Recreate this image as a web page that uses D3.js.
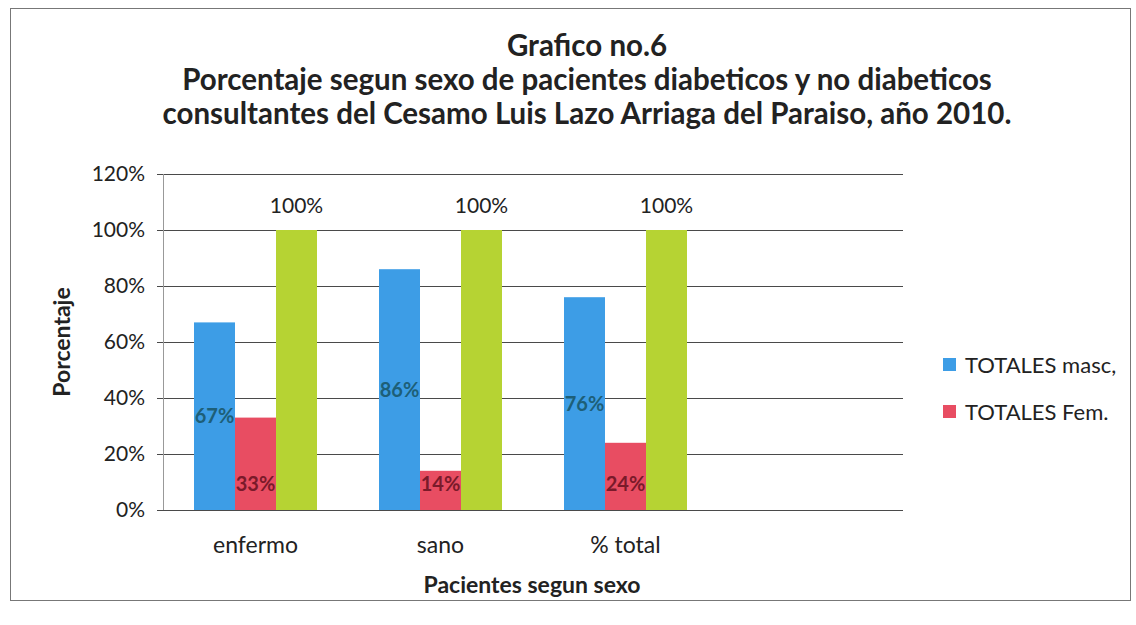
<!DOCTYPE html>
<html>
<head>
<meta charset="utf-8">
<script src="https://cdn.jsdelivr.net/npm/d3@7"></script>
<style>
  body { margin: 0; background: #fff; }
  text { font-family: Lato, "Open Sans", sans-serif; }
</style>
</head>
<body>
<svg width="1136" height="625"></svg>
<script>
// Categories and values (percent)
const categories = ["enfermo", "sano", "% total", ""];
const masc = [67, 86, 76, null];
const fem = [33, 14, 24, null];
const total = [100, 100, 100, null];
const yTicks = [0, 20, 40, 60, 80, 100, 120];
const titleLines = [
  "Grafico no.6",
  "Porcentaje segun sexo de pacientes diabeticos y no diabeticos",
  "consultantes del Cesamo Luis Lazo Arriaga del Paraiso, año 2010."
];

const colors = { masc: "#3d9de6", fem: "#e84d62", total: "#b6d333" };

const svg = d3.select("svg");

// chart border
svg.append("rect")
  .attr("x", 10.5).attr("y", 8.5)
  .attr("width", 1120).attr("height", 592)
  .attr("fill", "none").attr("stroke", "#777").attr("stroke-width", 1);

// scales
const x = d3.scaleBand().domain(categories).range([163, 903]).padding(0);
const y = d3.scaleLinear().domain([0, 120]).range([510, 174]);

// gridlines
svg.selectAll("line.grid")
  .data(yTicks)
  .enter()
  .append("line")
  .attr("class", "grid")
  .attr("x1", 157).attr("x2", 903)
  .attr("y1", (d) => Math.round(y(d)) + 0.5)
  .attr("y2", (d) => Math.round(y(d)) + 0.5)
  .attr("stroke", "#4a4a4a")
  .attr("stroke-width", 1.2);

// y axis line
svg.append("line")
  .attr("x1", 163.5).attr("x2", 163.5)
  .attr("y1", y(120)).attr("y2", y(0))
  .attr("stroke", "#999").attr("stroke-width", 1);

// y tick labels
svg.selectAll("text.ytick")
  .data(yTicks)
  .enter()
  .append("text")
  .attr("x", 145)
  .attr("y", (d) => y(d) + 7)
  .attr("text-anchor", "end")
  .attr("font-size", 21)
  .attr("fill", "#222")
  .text((d) => d + "%");

// bars
const barW = 41;
const series = [
  { key: "masc", values: masc, offset: -1.5 },
  { key: "fem", values: fem, offset: -0.5 },
  { key: "total", values: total, offset: 0.5 }
];

series.forEach(function (s) {
  const data = categories
    .map((c, i) => ({ cat: c, v: s.values[i] }))
    .filter((d) => d.v != null);
  svg.selectAll("rect.bar-" + s.key)
    .data(data)
    .enter()
    .append("rect")
    .attr("class", "bar-" + s.key)
    .attr("x", (d) => x(d.cat) + x.bandwidth() / 2 + s.offset * barW)
    .attr("y", (d) => y(d.v))
    .attr("width", barW)
    .attr("height", (d) => y(0) - y(d.v))
    .attr("fill", colors[s.key]);
});

// data labels
const mascData = categories.map((c, i) => ({ cat: c, v: masc[i] })).filter((d) => d.v != null);
svg.selectAll("text.lbl-masc")
  .data(mascData)
  .enter()
  .append("text")
  .attr("x", (d) => x(d.cat) + x.bandwidth() / 2 - barW)
  .attr("y", (d) => (y(d.v) + y(0)) / 2 + 7)
  .attr("text-anchor", "middle")
  .attr("font-size", 20)
  .attr("font-weight", "bold")
  .attr("fill", "#1d5f78")
  .text((d) => d.v + "%");

const femData = categories.map((c, i) => ({ cat: c, v: fem[i] })).filter((d) => d.v != null);
svg.selectAll("text.lbl-fem")
  .data(femData)
  .enter()
  .append("text")
  .attr("x", (d) => x(d.cat) + x.bandwidth() / 2)
  .attr("y", y(0) - 19)
  .attr("text-anchor", "middle")
  .attr("font-size", 20)
  .attr("font-weight", "bold")
  .attr("fill", "#7a1a2a")
  .text((d) => d.v + "%");

const totalData = categories.map((c, i) => ({ cat: c, v: total[i] })).filter((d) => d.v != null);
svg.selectAll("text.lbl-total")
  .data(totalData)
  .enter()
  .append("text")
  .attr("x", (d) => x(d.cat) + x.bandwidth() / 2 + barW)
  .attr("y", (d) => y(d.v) - 17)
  .attr("text-anchor", "middle")
  .attr("font-size", 21)
  .attr("fill", "#222")
  .text((d) => d.v + "%");

// x category labels
svg.selectAll("text.xtick")
  .data(categories)
  .enter()
  .append("text")
  .attr("x", (d) => x(d) + x.bandwidth() / 2)
  .attr("y", 553)
  .attr("text-anchor", "middle")
  .attr("font-size", 23)
  .attr("fill", "#222")
  .text((d) => d);

// axis titles
svg.append("text")
  .attr("x", 532).attr("y", 593)
  .attr("text-anchor", "middle")
  .attr("font-size", 23)
  .attr("font-weight", "bold")
  .attr("fill", "#222")
  .text("Pacientes segun sexo");

svg.append("text")
  .attr("transform", "translate(70,342) rotate(-90)")
  .attr("text-anchor", "middle")
  .attr("font-size", 23)
  .attr("font-weight", "bold")
  .attr("fill", "#222")
  .text("Porcentaje");

// title
svg.selectAll("text.title")
  .data(titleLines)
  .enter()
  .append("text")
  .attr("x", 587)
  .attr("y", (d, i) => 56 + i * 34)
  .attr("text-anchor", "middle")
  .attr("font-size", 29.5)
  .attr("font-weight", "bold")
  .attr("fill", "#222")
  .text((d) => d);

// legend
const legendItems = [
  { label: "TOTALES masc,", color: colors.masc },
  { label: "TOTALES Fem.", color: colors.fem }
];
const legend = svg.selectAll("g.legend")
  .data(legendItems)
  .enter()
  .append("g")
  .attr("transform", (d, i) => `translate(943,${365 + i * 47})`);
legend.append("rect")
  .attr("x", 0).attr("y", -7)
  .attr("width", 13).attr("height", 13)
  .attr("fill", (d) => d.color);
legend.append("text")
  .attr("x", 22).attr("y", 8)
  .attr("font-size", 22)
  .attr("fill", "#222")
  .text((d) => d.label);
</script>
</body>
</html>
